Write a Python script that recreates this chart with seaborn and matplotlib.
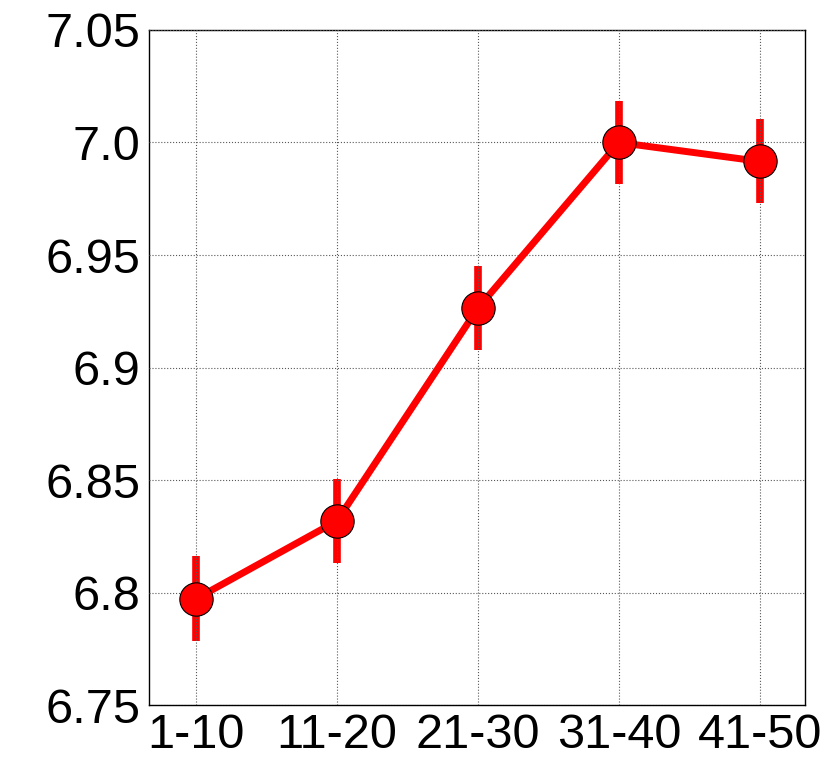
import numpy as np
import matplotlib
matplotlib.use("Agg")
import matplotlib.pyplot as plt
import seaborn as sns
import pandas as pd

# === Données ===
groups = ["1-10", "11-20", "21-30", "31-40", "41-50"]
means = [6.7972, 6.8318, 6.9264, 7.0000, 6.9916]
errors = [0.0189, 0.0187, 0.0186, 0.0184, 0.0187]
yticks = [6.75, 6.8, 6.85, 6.9, 6.95, 7.0, 7.05]
ytick_labels = ["6.75", "6.8", "6.85", "6.9", "6.95", "7.0", "7.05"]

df = pd.DataFrame({"group": groups, "value": means})

sns.set_style("white")
plt.rcParams["font.family"] = ["Liberation Sans", "DejaVu Sans"]

fig = plt.figure(figsize=(8.3, 7.67), dpi=100)
ax = fig.add_axes([0.1795, 0.0808, 0.7904, 0.8801])

# barres d'erreur sous les marqueurs
ax.errorbar(np.arange(len(groups)), means, yerr=errors, fmt="none",
            ecolor="#ff0000", elinewidth=5.5, capsize=0, zorder=2)

sns.pointplot(data=df, x="group", y="value", color="#ff0000", markers="o",
              errorbar=None, markersize=24, linewidth=5,
              markeredgecolor="black", markeredgewidth=0.8, ax=ax, zorder=3)

ax.set_xlim(-0.333, 4.32)
ax.set_ylim(6.75, 7.05)
ax.set_yticks(yticks)
ax.set_yticklabels(ytick_labels)
ax.set_xlabel("")
ax.set_ylabel("")

ax.set_axisbelow(False)
ax.grid(True, color="0.35", linestyle=":", linewidth=0.8)
ax.tick_params(axis="both", length=0, labelsize=35, pad=6, labelcolor="black")
for s in ax.spines.values():
    s.set_visible(True)
    s.set_color("black")
    s.set_linewidth(1.0)

fig.savefig("out.png", dpi=100)
